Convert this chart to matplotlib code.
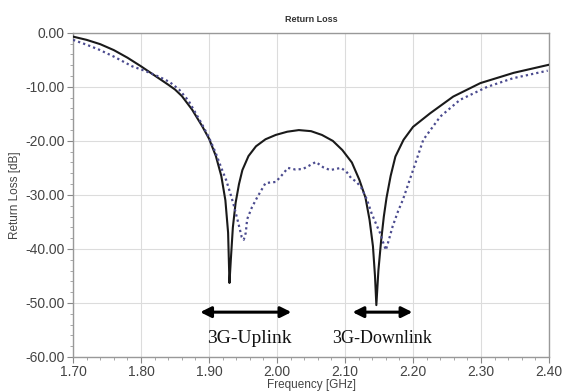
import numpy as np
import matplotlib
matplotlib.use('Agg')
import matplotlib.pyplot as plt
from matplotlib.ticker import MultipleLocator, FormatStrFormatter

# ── data ─────────────────────────────────────────────────────────────────────
# simulated (solid)
sim_freq = [1.700, 1.720, 1.740, 1.760, 1.780, 1.800, 1.820, 1.840, 1.850, 1.860,
            1.875, 1.890, 1.900, 1.910, 1.918, 1.924, 1.928, 1.930, 1.932, 1.935,
            1.939, 1.944, 1.949, 1.958, 1.969, 1.983, 1.998, 2.015, 2.032, 2.050,
            2.066, 2.082, 2.096, 2.110, 2.121, 2.130, 2.136, 2.141, 2.144, 2.146,
            2.149, 2.153, 2.157, 2.161, 2.167, 2.174, 2.186, 2.200, 2.225, 2.259,
            2.299, 2.348, 2.400]
sim_rl = [-0.7, -1.3, -2.1, -3.2, -4.6, -6.2, -7.9, -9.6, -10.5, -11.7,
          -14.2, -17.3, -19.6, -22.8, -26.5, -31.0, -37.0, -46.3, -42.0, -36.0,
          -31.5, -28.0, -25.4, -22.8, -21.0, -19.7, -18.9, -18.3, -18.0, -18.2,
          -18.9, -20.0, -21.7, -24.0, -27.2, -30.5, -34.6, -39.5, -45.0, -50.4,
          -44.0, -38.5, -34.0, -30.5, -26.5, -22.9, -19.8, -17.4, -14.9, -11.8,
          -9.3, -7.4, -5.9]

# measured (dotted)
meas_freq = [1.700, 1.720, 1.738, 1.760, 1.787, 1.805, 1.826, 1.842, 1.856, 1.870,
             1.890, 1.900, 1.910, 1.918, 1.925, 1.931, 1.937, 1.943, 1.948, 1.951,
             1.954, 1.956, 1.963, 1.971, 1.983, 1.998, 2.006, 2.016, 2.027, 2.038,
             2.047, 2.057, 2.068, 2.078, 2.094, 2.102, 2.109, 2.117, 2.124, 2.132,
             2.139, 2.146, 2.152, 2.156, 2.160, 2.164, 2.170, 2.178, 2.185, 2.200,
             2.215, 2.240, 2.269, 2.309, 2.347, 2.398]
meas_rl = [-1.3, -2.2, -3.1, -4.4, -6.2, -7.0, -8.1, -9.1, -10.5, -12.6,
           -17.0, -19.4, -22.3, -25.0, -27.2, -29.6, -32.2, -35.2, -37.8, -38.3,
           -37.0, -34.5, -32.3, -30.4, -27.8, -27.6, -26.5, -25.0, -25.3, -25.2,
           -24.6, -23.9, -24.9, -25.4, -25.0, -25.7, -26.9, -27.6, -28.7, -30.8,
           -33.4, -35.5, -37.2, -38.8, -40.2, -38.5, -35.8, -33.0, -30.9, -25.4,
           -19.8, -15.5, -12.4, -10.0, -8.4, -7.0]

band_names = ['3G-Uplink', '3G-Downlink']
band_start = [1.887, 2.111]
band_stop = [2.021, 2.199]
band_label_x = [1.960, 2.155]
band_fontsize = [14, 13]

# ── figure ───────────────────────────────────────────────────────────────────
plt.rcParams['font.family'] = ['Liberation Sans', 'DejaVu Sans']

fig = plt.figure(figsize=(5.62, 3.91), dpi=100, facecolor='white')
ax = fig.add_axes([0.130, 0.087, 0.847, 0.829])

ax.plot(sim_freq, sim_rl, color='#1a1a1a', lw=1.5, zorder=3)
ax.plot(meas_freq, meas_rl, color='#4b4b8f', lw=1.6, ls=(0, (1, 1.4)), zorder=3)

for name, s, e, lx, fs in zip(band_names, band_start, band_stop, band_label_x, band_fontsize):
    ax.annotate('', xy=(s, -51.7), xytext=(e, -51.7),
                arrowprops=dict(arrowstyle='<|-|>', color='black', lw=2.2,
                                mutation_scale=16, shrinkA=0, shrinkB=0))
    ax.text(lx, -56.6, name, ha='center', va='center', fontsize=fs,
            family='Liberation Serif', color='#111')

ax.set_xlim(1.70, 2.40)
ax.set_ylim(-60, 0)
ax.xaxis.set_major_locator(MultipleLocator(0.1))
ax.xaxis.set_minor_locator(MultipleLocator(0.02))
ax.yaxis.set_major_locator(MultipleLocator(10))
ax.yaxis.set_minor_locator(MultipleLocator(2))
ax.xaxis.set_major_formatter(FormatStrFormatter('%.2f'))
ax.yaxis.set_major_formatter(FormatStrFormatter('%.2f'))

ax.grid(True, which='major', color='#dcdcdc', lw=0.8)
ax.tick_params(which='major', direction='out', length=4, width=0.8,
               color='#888', labelsize=10, labelcolor='#444', pad=2)
ax.tick_params(which='minor', direction='out', length=2.5, width=0.6, color='#999')
for sp in ax.spines.values():
    sp.set_color('#999')
    sp.set_linewidth(1.0)

ax.set_title('Return Loss', fontsize=6.5, fontweight='bold', color='#333', pad=8)
ax.set_xlabel('Frequency [GHz]', fontsize=8.5, color='#444', labelpad=0)
ax.set_ylabel('Return Loss [dB]', fontsize=8.5, color='#444', labelpad=3)

fig.savefig('out.png', dpi=100, facecolor='white')
